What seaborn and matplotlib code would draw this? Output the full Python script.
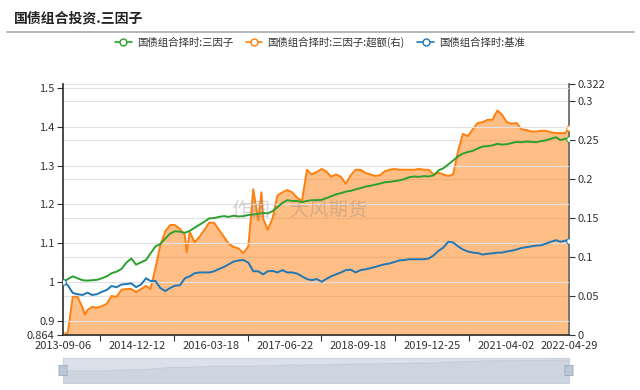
import matplotlib
matplotlib.use('Agg')
import numpy as np
import pandas as pd
import matplotlib.pyplot as plt
import seaborn as sns
from matplotlib.lines import Line2D
from matplotlib.patches import FancyBboxPatch

sns.set_theme(style='white')
plt.rcParams['font.family'] = ['Noto Sans CJK SC', 'DejaVu Sans']
plt.rcParams['axes.unicode_minus'] = False

# ---------------- data ----------------
title = '国债组合投资.三因子'
names = ['国债组合择时:三因子', '国债组合择时:三因子:超额(右)', '国债组合择时:基准']
watermark = '作图：大风期货'
tick_dates = ['2013-09-06', '2014-12-12', '2016-03-18', '2017-06-22',
              '2018-09-18', '2019-12-25', '2021-04-02', '2022-04-29']
left_ticks = [0.864, 0.9, 1.0, 1.1, 1.2, 1.3, 1.4, 1.5]
right_ticks = [0, 0.05, 0.1, 0.15, 0.2, 0.25, 0.3, 0.322]

start_date = '2013-09-06'
end_date = '2022-04-29'
sample_dates = list(pd.date_range(start_date, periods=104, freq=pd.DateOffset(months=1))) + [pd.Timestamp(end_date)]

three_factor = [
    1.000, 1.008, 1.015, 1.010, 1.005, 1.004, 1.005, 1.006, 1.010, 1.015,
    1.023, 1.027, 1.034, 1.050, 1.061, 1.045, 1.051, 1.057, 1.074, 1.092,
    1.098, 1.112, 1.125, 1.131, 1.130, 1.127, 1.132, 1.140, 1.148, 1.156,
    1.164, 1.165, 1.168, 1.170, 1.168, 1.171, 1.169, 1.170, 1.173, 1.174,
    1.176, 1.178, 1.177, 1.183, 1.193, 1.204, 1.211, 1.209, 1.209, 1.206,
    1.209, 1.211, 1.211, 1.212, 1.216, 1.221, 1.226, 1.229, 1.233, 1.235,
    1.239, 1.242, 1.246, 1.248, 1.251, 1.254, 1.257, 1.258, 1.260, 1.262,
    1.265, 1.270, 1.272, 1.271, 1.273, 1.272, 1.275, 1.288, 1.293, 1.303,
    1.313, 1.324, 1.331, 1.335, 1.338, 1.344, 1.349, 1.350, 1.352, 1.356,
    1.354, 1.355, 1.358, 1.361, 1.360, 1.362, 1.361, 1.360, 1.363, 1.365,
    1.369, 1.373, 1.366, 1.369, 1.369]

benchmark = [
    1.000, 0.992, 0.972, 0.969, 0.967, 0.973, 0.967, 0.969, 0.975, 0.980,
    0.990, 0.987, 0.994, 0.995, 0.997, 0.987, 0.994, 1.010, 1.003, 1.003,
    0.985, 0.977, 0.985, 0.991, 0.992, 1.010, 1.015, 1.023, 1.025, 1.025,
    1.025, 1.028, 1.034, 1.039, 1.046, 1.053, 1.056, 1.057, 1.050, 1.028,
    1.028, 1.020, 1.028, 1.029, 1.025, 1.031, 1.025, 1.025, 1.022, 1.015,
    1.008, 1.005, 1.008, 1.001, 1.008, 1.015, 1.020, 1.025, 1.031, 1.032,
    1.025, 1.031, 1.033, 1.036, 1.039, 1.043, 1.046, 1.048, 1.052, 1.056,
    1.057, 1.059, 1.059, 1.059, 1.059, 1.061, 1.069, 1.081, 1.089, 1.104,
    1.102, 1.092, 1.084, 1.079, 1.076, 1.075, 1.071, 1.073, 1.074, 1.076,
    1.076, 1.079, 1.081, 1.084, 1.088, 1.090, 1.092, 1.094, 1.095, 1.099,
    1.104, 1.108, 1.104, 1.107, 1.107]

excess = [
    0.000, 0.003, 0.049, 0.049, 0.035, 0.032, 0.036, 0.035, 0.037, 0.040,
    0.050, 0.049, 0.058, 0.059, 0.059, 0.055, 0.059, 0.063, 0.059, 0.086,
    0.115, 0.133, 0.141, 0.141, 0.136, 0.128, 0.132, 0.119, 0.126, 0.135,
    0.144, 0.144, 0.135, 0.126, 0.117, 0.113, 0.111, 0.105, 0.114, 0.187,
    0.147, 0.149, 0.135, 0.150, 0.179, 0.183, 0.186, 0.183, 0.176, 0.172,
    0.212, 0.206, 0.209, 0.213, 0.210, 0.203, 0.206, 0.203, 0.194, 0.205,
    0.212, 0.212, 0.208, 0.206, 0.204, 0.205, 0.210, 0.212, 0.213, 0.212,
    0.212, 0.212, 0.212, 0.213, 0.212, 0.212, 0.206, 0.208, 0.206, 0.204,
    0.206, 0.236, 0.258, 0.255, 0.264, 0.272, 0.273, 0.276, 0.276, 0.288,
    0.283, 0.273, 0.271, 0.272, 0.264, 0.263, 0.261, 0.261, 0.262, 0.262,
    0.260, 0.259, 0.259, 0.259, 0.265]
excess_extra_dates = ['2014-01-20', '2015-10-18', '2017-01-26']
excess_extra = [0.026, 0.106, 0.183]

colors = ['#2ca02c', '#ff7f0e', '#1f77b4']

# ---------------- frames ----------------
df_main = pd.DataFrame({'date': sample_dates, 'tf': three_factor, 'bm': benchmark})
df_ex = pd.concat([
    pd.DataFrame({'date': sample_dates, 'ex': excess}),
    pd.DataFrame({'date': pd.to_datetime(excess_extra_dates), 'ex': excess_extra}),
]).sort_values('date').reset_index(drop=True)

# ---------------- figure ----------------
fig = plt.figure(figsize=(6.4, 3.9), dpi=100)
fig.patch.set_facecolor('white')
L, R, B, T = 63 / 640, 569 / 640, (390 - 335) / 390, (390 - 84) / 390
axL = fig.add_axes([L, B, R - L, T - B])
axR = axL.twinx()
axL.set_zorder(2)
axR.set_zorder(1)
axL.patch.set_visible(False)

# orange area on right axis
axR.fill_between(df_ex['date'], df_ex['ex'], 0, color='#ff7f0e', alpha=0.5, lw=0, zorder=1)
n_ex = len(df_ex)
sns.lineplot(data=df_ex, x='date', y='ex', ax=axR, color=colors[1], lw=1.4,
             marker='o', markevery=[0, n_ex - 1], mfc='white', mec=colors[1], ms=4, zorder=3)

n = len(df_main)
sns.lineplot(data=df_main, x='date', y='tf', ax=axL, color=colors[0], lw=1.4,
             marker='o', markevery=[0, n - 1], mfc='white', mec=colors[0], ms=4, zorder=4)
sns.lineplot(data=df_main, x='date', y='bm', ax=axL, color=colors[2], lw=1.4,
             marker='o', markevery=[0, n - 1], mfc='white', mec=colors[2], ms=4, zorder=4)

tick_dt = pd.to_datetime(tick_dates)
axL.set_xlim(pd.Timestamp(start_date), pd.Timestamp(end_date))
axL.set_ylim(left_ticks[0], 1.51)
axR.set_ylim(right_ticks[0], right_ticks[-1])

axL.set_xticks(tick_dt)
axL.set_xticklabels(tick_dates)
mids = [tick_dt[i] + (tick_dt[i + 1] - tick_dt[i]) / 2 for i in range(6)]
axL.set_xticks(mids, minor=True)
axL.tick_params(axis='x', which='major', length=0, pad=4, labelsize=8, colors='#333333')
axL.tick_params(axis='x', which='minor', length=4, width=0.8, color='#333333', bottom=True)

axL.set_yticks(left_ticks)
axL.set_yticklabels(['%g' % v for v in left_ticks])
axR.set_yticks(right_ticks)
axR.set_yticklabels(['%g' % v for v in right_ticks])
axL.tick_params(axis='y', length=4, width=0.8, pad=2, labelsize=8, colors='#333333', left=True)
axR.tick_params(axis='y', length=4, width=0.8, pad=2, labelsize=8, colors='#333333', right=True)

for a in (axL, axR):
    a.set_xlabel('')
    a.set_ylabel('')
    a.spines['top'].set_visible(False)
    a.grid(axis='y', color='#e2e2e2', lw=0.8)
    a.grid(axis='x', visible=False)
axL.spines['right'].set_visible(False)
axL.spines['left'].set_color('#333333')
axL.spines['bottom'].set_color('#333333')
axR.spines['left'].set_visible(False)
axR.spines['bottom'].set_visible(False)
axR.spines['right'].set_color('#666666')

# watermark
fig.text(300 / 640, 1 - 210 / 390, watermark, fontsize=14, color='#888888', alpha=0.35,
         ha='center', va='center', zorder=10)

# title, separator, legend
fig.text(14 / 640, 1 - 19 / 390, title, fontsize=10, fontweight='bold', color='#222222',
         ha='left', va='center')
fig.add_artist(Line2D([7 / 640, 634 / 640], [1 - 32 / 390] * 2, color='#aaaaaa', lw=1.2))
handles = [Line2D([0], [0], color=c, lw=1.2, marker='o', ms=5, mfc='white', mec=c) for c in colors]
fig.legend(handles, names, loc='center', bbox_to_anchor=(0.5, 1 - 42 / 390), ncol=3,
           frameon=False, fontsize=7.5, handlelength=1.6, handletextpad=0.5,
           columnspacing=1.2, labelcolor='#333333')

# data-zoom slider
axS = fig.add_axes([L, 7 / 390, R - L, 25 / 390])
axS.set_facecolor('#dbe1ea')
sns.lineplot(data=df_main, x='date', y='tf', ax=axS, color='#c3ccd8', lw=0.8)
axS.fill_between(df_main['date'], df_main['tf'], 0.6, color='#cdd5e0', lw=0)
axS.set_xlim(pd.Timestamp(start_date), pd.Timestamp(end_date))
axS.set_ylim(0.6, 1.45)
axS.set_xticks([])
axS.set_yticks([])
axS.set_xlabel('')
axS.set_ylabel('')
for s in axS.spines.values():
    s.set_color('#c8d0dc')
    s.set_linewidth(0.8)
for xh in (0.0, 1.0):
    axS.add_patch(FancyBboxPatch((xh - 0.006, 0.3), 0.012, 0.4, boxstyle='round,pad=0.002',
                                 transform=axS.transAxes, facecolor='#bcc7d6',
                                 edgecolor='#9aa9bd', lw=0.6, clip_on=False, zorder=5))

fig.savefig('out.png', dpi=100, facecolor='white')
